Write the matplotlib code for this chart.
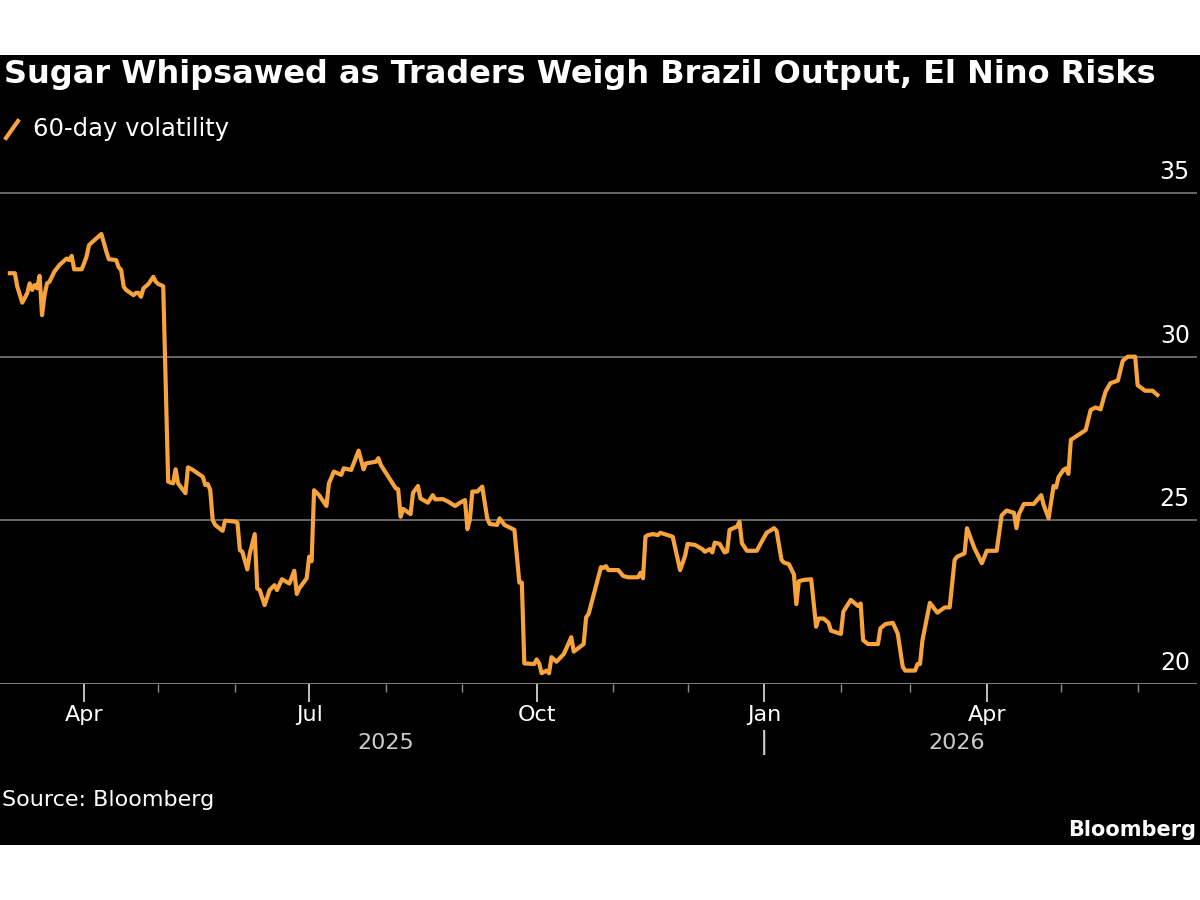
import numpy as np
import pandas as pd
import matplotlib
matplotlib.use("Agg")
import matplotlib.pyplot as plt
import matplotlib.dates as mdates
from matplotlib.lines import Line2D
from matplotlib.patches import Rectangle
from matplotlib.transforms import offset_copy

# 60-day volatility; days counted from base_date
base_date = "2025-04-01"
day = [-30, -28, -27, -25, -23, -22, -21, -20, -19, -18, -17, -16, -15, -14, -12, -10, -7, -6, -5, -4,
       -1, 0, 1, 2, 4, 7, 8, 9, 10, 13, 14, 15, 16, 17, 20, 21, 22, 23, 24, 26, 28, 29, 30, 31, 32,
       34, 36, 37, 38, 41, 42, 44, 48, 49, 50, 51, 52, 53, 56, 57, 61, 62, 63, 64, 66, 67, 69, 70,
       71, 73, 75, 77, 78, 80, 83, 85, 86, 87, 90, 91, 92, 93, 95, 98, 99, 101, 104, 105, 108, 111,
       113, 114, 118, 119, 120, 126, 127, 128, 129, 132, 133, 135, 136, 139, 141, 142, 145, 147,
       150, 152, 154, 155, 156, 157, 159, 161, 163, 164, 167, 168, 170, 174, 176, 177, 178, 182,
       183, 184, 185, 187, 188, 189, 191, 194, 197, 198, 202, 203, 204, 209, 210, 211, 212, 216,
       218, 220, 224, 225, 226, 227, 228, 230, 232, 233, 236, 238, 241, 243, 244, 247, 250, 251,
       253, 254, 255, 257, 259, 260, 261, 264, 265, 266, 268, 272, 274, 276, 279, 280, 282, 283,
       285, 287, 288, 289, 291, 294, 296, 297, 299, 301, 302, 306, 307, 310, 313, 314, 315, 317,
       321, 322, 324, 327, 329, 331, 332, 336, 337, 338, 339, 342, 344, 345, 348, 350, 352, 353,
       356, 357, 359, 360, 363, 365, 369, 371, 373, 376, 377, 378, 380, 384, 387, 388, 390, 392,
       393, 394, 396, 397, 398, 399, 402, 405, 407, 409, 411, 413, 415, 418, 420, 422, 425, 426,
       429, 432, 434]
vol = [32.55, 32.55, 32.14, 31.65, 31.94, 32.24, 32.04, 32.19, 32.09, 32.47, 31.27, 31.88, 32.24,
       32.29, 32.60, 32.80, 33.00, 32.95, 33.08, 32.67, 32.67, 32.85, 33.06, 33.41, 33.55, 33.75,
       33.48, 33.21, 32.98, 32.95, 32.73, 32.65, 32.14, 32.04, 31.88, 31.95, 31.95, 31.83, 32.09,
       32.22, 32.44, 32.29, 32.22, 32.19, 32.15,
       26.18, 26.13, 26.56, 26.13, 25.83, 26.62, 26.54, 26.33, 26.08, 26.11, 25.93, 25.01, 24.86,
       24.68, 24.99, 24.96, 24.93, 24.09, 24.04, 23.50, 23.99, 24.58, 22.92, 22.87, 22.41, 22.87,
       23.02, 22.87, 23.20, 23.07, 23.46, 22.75, 22.92, 23.23, 23.89, 23.75, 25.92, 25.77, 25.44,
       26.13, 26.49, 26.39, 26.59, 26.54, 27.13, 26.56, 26.74, 26.79, 26.90, 26.69, 25.98, 25.95,
       25.11, 25.35, 25.19, 25.84, 26.05, 25.67, 25.54, 25.77, 25.64, 25.65, 25.58, 25.44, 25.54,
       25.62, 24.73, 25.03, 25.88, 25.88, 26.03, 25.06, 24.89, 24.86, 25.06, 24.86, 24.71, 23.10,
       23.10, 20.63, 20.61, 20.75, 20.63, 20.33, 20.41, 20.33, 20.82, 20.68, 20.92, 21.43, 20.99,
       21.22, 22.04, 22.14, 23.57, 23.55, 23.60, 23.48, 23.48, 23.30, 23.26, 23.26, 23.40, 23.23,
       24.50, 24.55, 24.58, 24.55, 24.62, 24.55, 24.50, 23.48, 23.91, 24.28, 24.25, 24.12, 24.04,
       24.12, 24.02, 24.32, 24.28, 24.02, 24.05, 24.71, 24.81, 24.96, 24.30, 24.07, 24.07, 24.35,
       24.62, 24.76, 24.68, 23.79, 23.71, 23.66, 23.35, 22.44, 23.14, 23.18, 23.20, 21.75, 22.00,
       22.00, 21.87, 21.63, 21.53, 22.21, 22.57, 22.38, 22.46, 21.34, 21.22, 21.22, 21.70, 21.83,
       21.87, 21.54, 20.53, 20.41, 20.41, 20.61, 20.61, 21.34, 22.48, 22.28, 22.18, 22.34, 22.34,
       23.79, 23.89, 23.99, 24.76, 24.35, 24.15, 23.69, 24.07, 24.07, 25.15, 25.30, 25.23, 24.76,
       25.19, 25.50, 25.50, 25.77, 25.47, 25.06, 26.05, 26.00, 26.32, 26.54, 26.59, 26.42, 27.46,
       27.61, 27.76, 28.37, 28.45, 28.39, 28.93, 29.19, 29.27, 29.88, 30.00, 30.00, 29.13, 28.96,
       28.96, 28.83]

y_ticks = [20, 25, 30, 35]
years = ["2025", "2026"]

title = "Sugar Whipsawed as Traders Weigh Brazil Output, El Nino Risks"
series_name = "60-day volatility"

dates = pd.Timestamp(base_date) + pd.to_timedelta(day, unit="D")

orange = "#f8a33b"
grid_col = "#6e6e6e"
narrow = ["Liberation Sans Narrow", "DejaVu Sans"]

fig = plt.figure(figsize=(12, 9), dpi=100)
fig.patch.set_facecolor("white")
# black panel of the graphic
fig.add_artist(Rectangle((0, 1 - 845 / 900), 1, (845 - 55) / 900, transform=fig.transFigure,
                         facecolor="black", edgecolor="none", zorder=0))

ax = fig.add_axes([0.0, 1 - 684 / 900, 0.9975, (684 - 173.4) / 900])
ax.set_facecolor("black")
ax.patch.set_alpha(0)

ax.plot(dates, vol, color=orange, lw=3.0, solid_joinstyle="round", zorder=3)

ax.set_ylim(20, 35.6)
ax.set_xlim(pd.Timestamp("2025-02-26"), pd.Timestamp("2026-06-25"))

for s in ax.spines.values():
    s.set_visible(False)

lab_trans = offset_copy(ax.get_yaxis_transform(), fig=fig, x=0, y=9, units="dots")
for v in y_ticks:
    ax.axhline(v, color=grid_col if v != 20 else "#8a8a8a", lw=1.3, zorder=1)
    ax.text(0.994, v, str(v), transform=lab_trans, ha="right", va="bottom",
            color="white", fontsize=17, family=narrow)
ax.set_yticks([])

# month ticks
ax.xaxis.set_major_locator(mdates.MonthLocator(bymonth=[1, 4, 7, 10]))
ax.set_xticks(pd.date_range("2025-04-01", "2026-06-01", freq="MS"), minor=True)
ax.xaxis.set_major_formatter(mdates.DateFormatter("%b"))
ax.tick_params(axis="x", which="major", length=13, width=1.3, color="#cfcfcf",
               labelcolor="white", labelsize=16, pad=2)
ax.tick_params(axis="x", which="minor", length=6, width=1.0, color="#8a8a8a")
for lab in ax.get_xticklabels():
    lab.set_family(narrow)

# year labels and separator
trans = ax.get_xaxis_transform()
ax.text(pd.Timestamp("2025-08-01"), -0.115, years[0], transform=trans, ha="center", va="center",
        color="#cccccc", fontsize=16, family=narrow, clip_on=False)
ax.text(pd.Timestamp("2026-03-20"), -0.115, years[1], transform=trans, ha="center", va="center",
        color="#cccccc", fontsize=16, family=narrow, clip_on=False)
ax.text(pd.Timestamp("2026-01-01"), -0.115, "|", transform=trans, ha="center", va="center",
        color="#cccccc", fontsize=18, family=narrow, clip_on=False)

# title and legend
fig.text(0.003, 1 - 75 / 900, title, color="white", fontsize=23, fontweight="bold",
         ha="left", va="center", family="DejaVu Sans")
fig.add_artist(Line2D([6 / 1200, 18 / 1200], [1 - 138 / 900, 1 - 121 / 900],
                      transform=fig.transFigure, color=orange, lw=3))
fig.text(33 / 1200, 1 - 129 / 900, series_name, color="white", fontsize=17.5, ha="left",
         va="center", family="DejaVu Sans")

fig.text(0.002, 1 - 800 / 900, "Source: Bloomberg", color="white", fontsize=16, ha="left",
         va="center", family=narrow)
fig.text(0.997, 1 - 830 / 900, "Bloomberg", color="white", fontsize=15, fontweight="bold",
         ha="right", va="center", family=narrow)

fig.savefig("out.png", dpi=100, facecolor="white")
